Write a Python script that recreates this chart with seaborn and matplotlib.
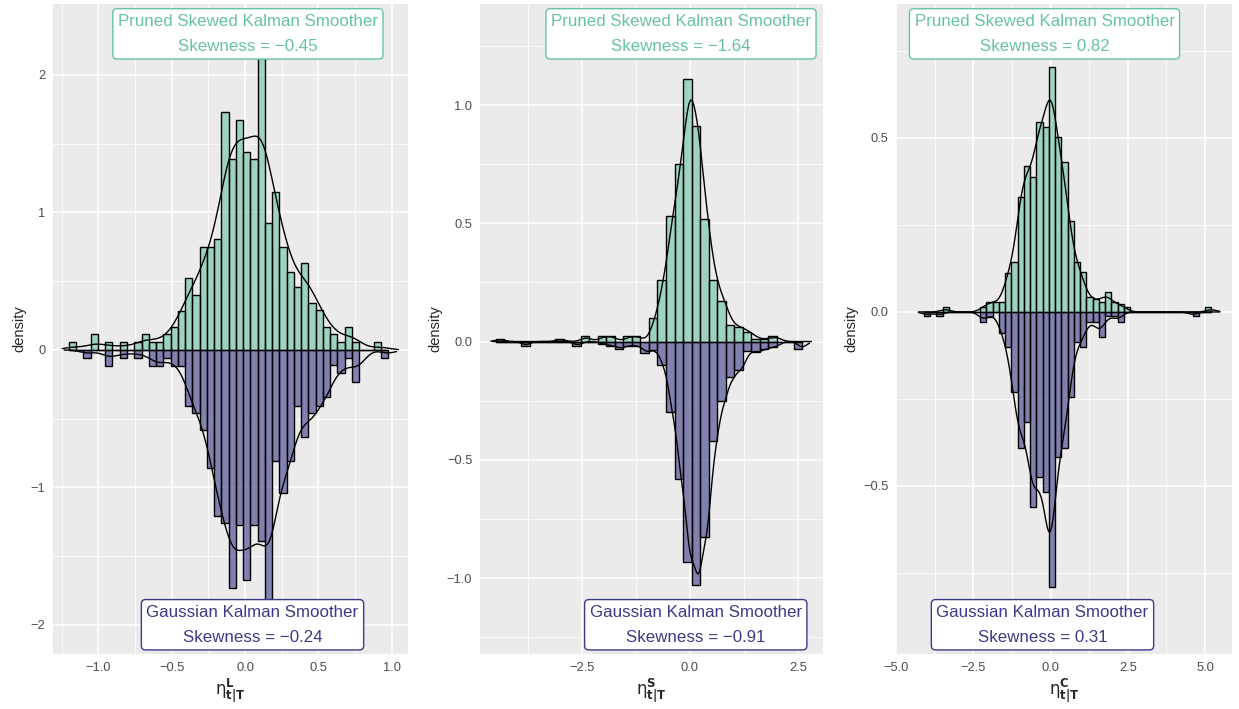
import numpy as np
import pandas as pd
import seaborn as sns
import matplotlib.pyplot as plt
from matplotlib.ticker import FixedLocator

GREEN = "#66C2A5"
PURPLE = "#3B3B8A"

# histogram densities (one value per bin)
# level component: bins of width 0.05 from -1.2
level_start, level_width = -1.2, 0.05
level_pruned = [0.057, 0, 0, 0.114, 0, 0.057, 0, 0.057, 0, 0.057,
                0.114, 0.057, 0.057, 0.114, 0.17, 0.287, 0.52, 0.40, 0.75, 0.75,
                0.81, 1.73, 1.39, 1.67, 1.44, 1.39, 2.12, 0.92, 1.15, 0.75,
                0.57, 0.46, 0.63, 0.34, 0.29, 0.17, 0.114, 0.057, 0.17, 0.057,
                0, 0, 0.057, 0]
level_gauss = [0, 0, 0.057, 0, 0, 0.114, 0, 0.057, 0, 0.057,
               0, 0.114, 0.114, 0.057, 0.114, 0.114, 0.41, 0.46, 0.58, 0.86,
               1.21, 1.26, 1.73, 1.27, 1.67, 1.27, 1.39, 1.83, 0.81, 1.04,
               0.81, 0.41, 0.63, 0.46, 0.41, 0.34, 0.11, 0.17, 0.057, 0.23,
               0, 0, 0, 0.057]

# slope component: bins of width 0.2 from -4.5
slope_start, slope_width = -4.5, 0.2
slope_pruned = [0.011, 0, 0, 0, 0, 0, 0, 0.011, 0, 0,
                0.022, 0, 0.022, 0.022, 0, 0.022, 0.022, 0, 0.099, 0.26,
                0.53, 0.75, 1.11, 0.91, 0.52, 0.26, 0.17, 0.07, 0.06, 0.04,
                0.011, 0.011, 0.022, 0, 0, 0]
slope_gauss = [0, 0, 0, 0.017, 0, 0, 0, 0, 0, 0.017,
               0, 0, 0.011, 0.017, 0.03, 0.017, 0.017, 0.047, 0.034, 0.10,
               0.30, 0.58, 0.93, 1.03, 0.825, 0.42, 0.25, 0.15, 0.12, 0.04,
               0.045, 0.03, 0.022, 0, 0, 0.03]

# cycle component: bins of width 0.2 from -4.1
cycle_start, cycle_width = -4.1, 0.2
cycle_pruned = [0, 0, 0, 0.013, 0, 0, 0, 0, 0, 0.013,
                0.028, 0.028, 0.028, 0.113, 0.144, 0.331, 0.418, 0.389, 0.547, 0.531,
                0.705, 0.502, 0.43, 0.26, 0.144, 0.116, 0.042, 0.037, 0.03, 0.057,
                0.028, 0.023, 0.014, 0, 0, 0, 0, 0, 0, 0,
                0, 0, 0, 0, 0, 0, 0.013]
cycle_gauss = [0.013, 0, 0.013, 0, 0, 0, 0, 0, 0, 0.028,
               0.014, 0, 0.06, 0.10, 0.23, 0.39, 0.317, 0.56, 0.475, 0.518,
               0.79, 0.418, 0.39, 0.245, 0.087, 0.10, 0.028, 0.028, 0.073, 0.013,
               0.013, 0.028, 0, 0, 0, 0, 0, 0, 0, 0,
               0, 0, 0, 0.013, 0, 0, 0]

skew_pruned = ["\u22120.45", "\u22121.64", "0.82"]
skew_gauss = ["\u22120.24", "\u22120.91", "0.31"]
superscripts = ["L", "S", "C"]

level_xticks = [-1.0, -0.5, 0.0, 0.5, 1.0]
level_yticks = [-2, -1, 0, 1, 2]
slope_xticks = [-2.5, 0.0, 2.5]
slope_yticks = [-1.0, -0.5, 0.0, 0.5, 1.0]
cycle_xticks = [-5.0, -2.5, 0.0, 2.5, 5.0]
cycle_yticks = [-0.5, 0.0, 0.5]


def fmt(v, dec):
    s = f"{v:.{dec}f}"
    return s.replace("-", "\u2212")


def draw_panel(ax, start, width, pruned, gauss, cfg):
    n = len(pruned)
    centers = start + width * (np.arange(n) + 0.5)
    df = pd.DataFrame({"x": centers, "top": np.array(pruned, dtype=float),
                       "bottom": -np.array(gauss, dtype=float)})
    brange = (start, start + (n - 0.5) * width)

    sns.histplot(data=df, x="x", weights="top", binwidth=width, binrange=brange,
                 stat="count", color=GREEN, alpha=0.6, edgecolor="black",
                 linewidth=1.0, ax=ax)
    sns.histplot(data=df, x="x", weights="bottom", binwidth=width, binrange=brange,
                 stat="count", color=PURPLE, alpha=0.6, edgecolor="black",
                 linewidth=1.0, ax=ax)

    sns.kdeplot(x=centers, weights=np.array(pruned) + 1e-9, bw_method=cfg["bw"][0],
                cut=0.5, color="black", linewidth=1.0, ax=ax)
    sns.kdeplot(x=centers, weights=np.array(gauss) + 1e-9, bw_method=cfg["bw"][1],
                cut=0.5, color="black", linewidth=1.0, ax=ax)
    # mirror the Gaussian smoother density below zero
    line = ax.lines[-1]
    line.set_ydata(-np.asarray(line.get_ydata()))

    ax.set_xlim(*cfg["xlim"])
    ax.set_ylim(*cfg["ylim"])
    ax.set_xticks(cfg["xticks"], [fmt(v, 1) for v in cfg["xticks"]])
    ax.set_yticks(cfg["yticks"], [fmt(v, cfg["ydec"]) for v in cfg["yticks"]])
    ax.xaxis.set_minor_locator(FixedLocator(cfg["xminor"]))
    ax.yaxis.set_minor_locator(FixedLocator(cfg["yminor"]))
    ax.grid(which="major", color="white", linewidth=1.1)
    ax.grid(which="minor", color="white", linewidth=0.55)
    ax.tick_params(which="minor", length=0)
    ax.tick_params(which="major", length=3.5, width=0.9, color="#333333",
                   labelcolor="#4D4D4D", labelsize=9.3, pad=2)
    for sp in ax.spines.values():
        sp.set_visible(False)

    ax.set_ylabel("density", fontsize=10.5, labelpad=3)
    ax.set_xlabel(r"$\mathrm{\eta}^{\mathbf{%s}}_{\mathbf{t|T}}$" % cfg["sup"],
                  fontsize=12, labelpad=2)

    box = "round,pad=0.3,rounding_size=0.25"
    ax.text(cfg["top_x"], 0.954,
            f"Pruned Skewed Kalman Smoother\nSkewness = {cfg['skew_top']}",
            transform=ax.transAxes, ha="center", va="center", color=GREEN,
            fontsize=12.2, linespacing=1.85,
            bbox=dict(boxstyle=box, fc="white", ec=GREEN, lw=1.0))
    ax.text(cfg["bot_x"], 0.045,
            f"Gaussian Kalman Smoother\nSkewness = {cfg['skew_bot']}",
            transform=ax.transAxes, ha="center", va="center", color=PURPLE,
            fontsize=12.2, linespacing=1.85,
            bbox=dict(boxstyle=box, fc="white", ec=PURPLE, lw=1.0))


def main():
    sns.set_theme(style="darkgrid", rc={"axes.facecolor": "#EBEBEB",
                                        "figure.facecolor": "white"})
    plt.rcParams["font.family"] = ["Liberation Sans", "DejaVu Sans"]
    plt.rcParams["mathtext.fontset"] = "dejavusans"

    fig = plt.figure(figsize=(12.39, 7.09), dpi=100)
    W, H = 1239, 709
    boxes = [(53, 408), (480, 823), (896, 1232)]
    axes = [fig.add_axes([l / W, (H - 654) / H, (r - l) / W, 650 / H])
            for l, r in boxes]

    configs = [
        dict(bw=(0.22, 0.18), xlim=(-1.309, 1.111), ylim=(-2.211, 2.516),
             xticks=level_xticks, yticks=level_yticks, ydec=0,
             xminor=[-1.25, -0.75, -0.25, 0.25, 0.75],
             yminor=[-1.5, -0.5, 0.5, 1.5], sup=superscripts[0],
             top_x=0.549, bot_x=0.562,
             skew_top=skew_pruned[0], skew_bot=skew_gauss[0]),
        dict(bw=(0.2, 0.16), xlim=(-4.861, 3.079), ylim=(-1.321, 1.427),
             xticks=slope_xticks, yticks=slope_yticks, ydec=1,
             xminor=[-3.75, -1.25, 1.25],
             yminor=[-1.25, -0.75, -0.25, 0.25, 0.75, 1.25], sup=superscripts[1],
             top_x=0.586, bot_x=0.629,
             skew_top=skew_pruned[1], skew_bot=skew_gauss[1]),
        dict(bw=(0.2, 0.2), xlim=(-4.968, 5.87), ylim=(-0.983, 0.885),
             xticks=cycle_xticks, yticks=cycle_yticks, ydec=1,
             xminor=[-3.75, -1.25, 1.25, 3.75],
             yminor=[-0.75, -0.25, 0.25, 0.75], sup=superscripts[2],
             top_x=0.442, bot_x=0.436,
             skew_top=skew_pruned[2], skew_bot=skew_gauss[2]),
    ]
    data = [(level_start, level_width, level_pruned, level_gauss),
            (slope_start, slope_width, slope_pruned, slope_gauss),
            (cycle_start, cycle_width, cycle_pruned, cycle_gauss)]

    for ax, (start, width, pr, ga), cfg in zip(axes, data, configs):
        draw_panel(ax, start, width, pr, ga, cfg)

    fig.savefig("out.png", dpi=100)


if __name__ == "__main__":
    main()
